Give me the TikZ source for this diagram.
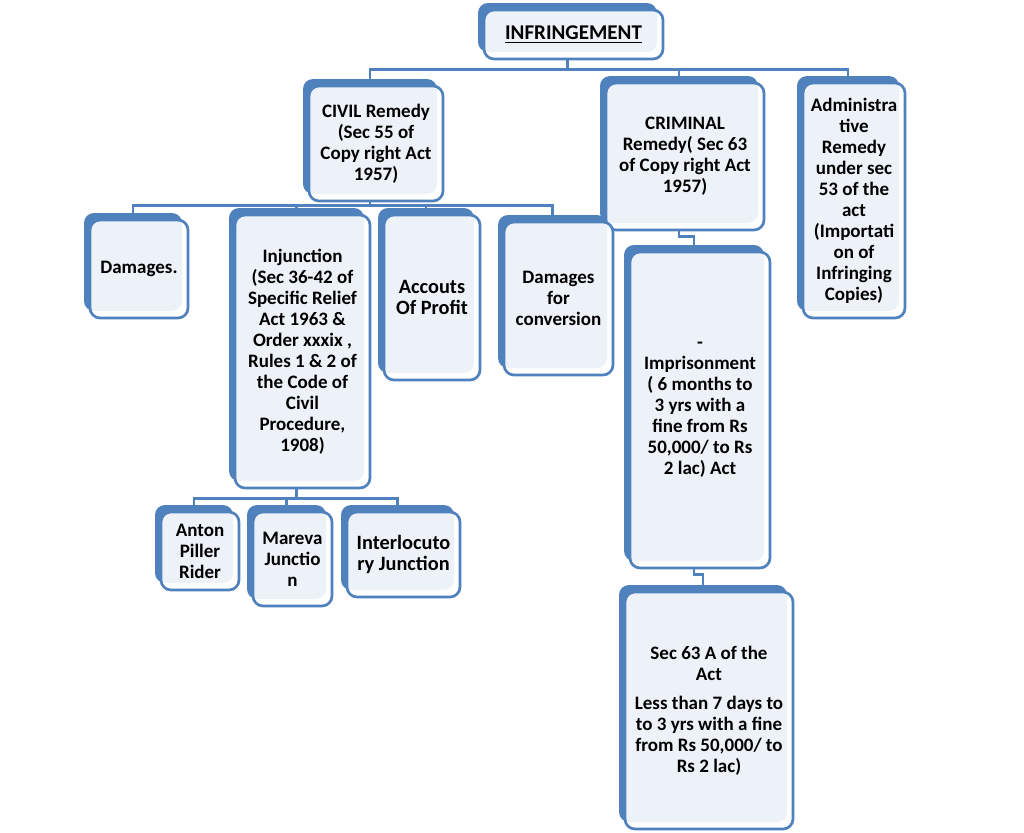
\documentclass[tikz,border=0pt]{standalone}
\usepackage{fontspec}
\setmainfont{Carlito}
\usetikzlibrary{shadows,backgrounds}
\definecolor{boxblue}{HTML}{4F81BD}

\tikzset{
  remedy/.style 2 args={draw=boxblue,line width=2pt,rounded corners=7.5pt,
    fill=white,fill opacity=0.9,text opacity=1,inner sep=0pt,align=center,
    minimum width=#1*0.75pt,minimum height=#2*0.75pt,
    font=\fontsize{14.25pt}{15.75pt}\selectfont\bfseries,
    general shadow={fill=boxblue,fill opacity=1,shadow xshift=-4.5pt,shadow yshift=5.25pt}},
  bigtext/.style={font=\fontsize{15.25pt}{15.75pt}\selectfont\bfseries},
  conn/.style={draw=boxblue,line width=2.1pt},
  bk/.style={xshift=-4.5pt}
}

\begin{document}
\begin{tikzpicture}[x=0.75pt,y=-0.75pt]
\useasboundingbox (0,0) rectangle (1024,832);
\node[remedy={179}{49},font=\fontsize{15.75pt}{16pt}\selectfont\bfseries] (infr) at (573.5,34.5) {\underline{INFRINGEMENT}};
\node[remedy={134}{115}] (civil) at (376,143.5) {CIVIL Remedy\\(Sec 55 of\\Copy right Act\\1957)};
\node[remedy={158}{147}] (crim) at (685,156.5) {CRIMINAL\\Remedy( Sec 63\\of Copy right Act\\1957)};
\node[remedy={102}{235}] (admin) at (854,200.5) {Administra\\tive\\Remedy\\under sec\\53 of the\\act\\(Importati\\on of\\Infringing\\Copies)};
\node[remedy={98}{98}] (damages) at (139,269) {Damages.};
\node[remedy={135}{273}] (injunc) at (302.5,351.5) {Injunction\\(Sec 36-42 of\\Specific Relief\\Act 1963 \&\\Order xxxix ,\\Rules 1 \& 2 of\\the Code of\\Civil\\Procedure,\\1908)};
\node[remedy={96}{165},bigtext] (accouts) at (432,297.5) {Accouts\\Of Profit};
\node[remedy={109}{153}] (convers) at (558.5,298.5) {Damages\\for\\conversion};
\node[remedy={78}{78}] (anton) at (200,551) {Anton\\Piller\\Rider};
\node[remedy={79}{94}] (mareva) at (292.5,559) {Mareva\\Junctio\\n};
\node[remedy={113}{85},bigtext] (interloc) at (403.5,554.5) {Interlocuto\\ry Junction};
\node[remedy={140}{316}] (prison) at (700,410) {-\\Imprisonment\\( 6 months to\\3 yrs with a\\fine from Rs\\50,000/ to Rs\\2 lac) Act};
\node[remedy={168}{237}] (secA) at (709,710.5) {Sec 63 A of the\\Act\\[6pt]Less than 7 days to\\to 3 yrs with a fine\\from Rs 50,000/ to\\Rs 2 lac)};
\begin{scope}[on background layer]
\draw[conn] ([bk]infr.south) -- ++(0,9) -| ([bk]civil.north);
\draw[conn] ([bk]infr.south) -- ++(0,9) -| ([bk]crim.north);
\draw[conn] ([bk]infr.south) -- ++(0,9) -| ([bk]admin.north);
\draw[conn] ([bk]civil.south) -- ++(0,3) -| ([bk]damages.north);
\draw[conn] ([bk]civil.south) -- ++(0,3) -| ([bk]injunc.north);
\draw[conn] ([bk]civil.south) -- ++(0,3) -| ([bk]accouts.north);
\draw[conn] ([bk]civil.south) -- ++(0,3) -| ([bk]convers.north);
\draw[conn] ([bk]injunc.south) -- ++(0,9) -| ([bk]anton.north);
\draw[conn] ([bk]injunc.south) -- ++(0,9) -| ([bk]mareva.north);
\draw[conn] ([bk]injunc.south) -- ++(0,9) -| ([bk]interloc.north);
\draw[conn] ([bk]crim.south) -- ++(0,5) -| ([bk]prison.north);
\draw[conn] ([bk]prison.south) -- ++(0,5) -| ([bk]secA.north);
\end{scope}
\end{tikzpicture}
\end{document}
